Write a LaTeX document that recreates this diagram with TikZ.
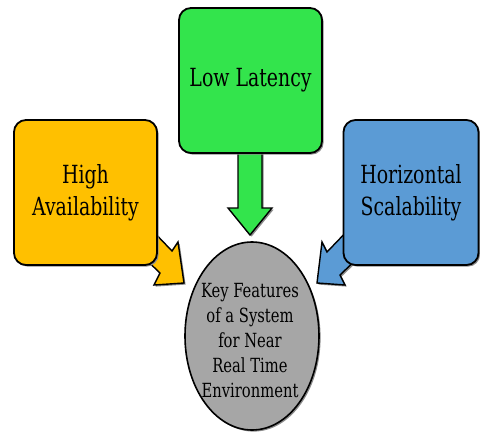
\documentclass[tikz,border=0pt]{standalone}
\usepackage{fontspec}
\newfontfamily\labelfont{DejaVu Serif Condensed}
\usetikzlibrary{shapes.geometric,shadows}

\definecolor{boxorange}{RGB}{255,192,0}
\definecolor{boxgreen}{RGB}{51,228,76}
\definecolor{boxblue}{RGB}{91,155,213}
\definecolor{hubgray}{RGB}{166,166,166}

% condensed lettering: squeeze each label horizontally
\newcommand{\narrowtext}[1]{\scalebox{0.84}[1]{#1}}

\tikzset{
  shade3d/.style={drop shadow={shadow xshift=1.6pt,shadow yshift=-1.6pt,fill=black!45,opacity=1}},
  featurebox/.style={draw=black,line width=1.8pt,rounded corners=12pt,shade3d,
    minimum height=145pt,align=center,inner sep=0pt,
    font=\labelfont\fontsize{25}{32}\selectfont},
  blockarrow/.style={draw=black,line width=1.4pt,line join=miter,shade3d},
  hub/.style={ellipse,draw=black,line width=1.6pt,fill=hubgray,shade3d,
    minimum width=134pt,minimum height=188pt,inner sep=0pt},
  hubtext/.style={align=center,inner sep=0pt,font=\labelfont\fontsize{19.5}{25}\selectfont},
}

\begin{document}
\begin{tikzpicture}[x=1pt,y=-1pt]
\useasboundingbox (0,0) rectangle (480,434);

% block arrows (drawn first, their tails hide under the boxes)
\draw[blockarrow,fill=boxgreen] (238,140) -- (238,208) -- (228,208) -- (250,235)
  -- (272,208) -- (262,208) -- (262,140) -- cycle;
\draw[blockarrow,fill=boxorange] (148,226) -- (172,251) -- (178,242) -- (184,283)
  -- (154,285) -- (160,273) -- (136,250) -- cycle;
\draw[blockarrow,fill=boxblue] (352,226) -- (327,252) -- (322,242) -- (317,283)
  -- (345,285) -- (340,275) -- (364,252) -- cycle;

% feature boxes
\node[featurebox,fill=boxgreen,minimum width=143pt] (lat) at (250.5,80.5)
  {\narrowtext{Low Latency}};
\node[featurebox,fill=boxorange,minimum width=143pt] (avail) at (85.5,192.5)
  {\narrowtext{High}\\\narrowtext{Availability}};
\node[featurebox,fill=boxblue,minimum width=135pt] (scale) at (411,192.5)
  {\narrowtext{Horizontal}\\\narrowtext{Scalability}};

% central ellipse
\node[hub] (hubnode) at (252,336) {};
\node[hubtext] (hubtext) at (250,341)
  {\narrowtext{Key Features}\\\narrowtext{of a System}\\\narrowtext{for Near}\\
   \narrowtext{Real Time}\\\narrowtext{Environment}};
\end{tikzpicture}
\end{document}
